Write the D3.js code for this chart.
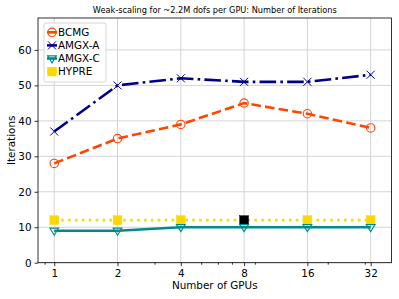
<!DOCTYPE html>
<html>
<head>
<meta charset="utf-8">
<script src="https://d3js.org/d3.v7.min.js"></script>
<style>
  body { margin: 0; background: #fff; }
  svg { font-family: "DejaVu Sans", sans-serif; }
</style>
</head>
<body>
<svg id="chart" width="399" height="299"></svg>
<script>
// data
var gpus = [1, 2, 4, 8, 16, 32];
var bcmg = [28, 35, 39, 45, 42, 38];
var amgxA = [37, 50, 52, 51, 51, 53];
var amgxC = [9, 9, 10, 10, 10, 10];
var hypre = [12, 12, 12, 12, 12, 12];
var hypreHighlight = [false, false, false, true, false, false];
var yTicks = [0, 10, 20, 30, 40, 50, 60];
var xMinorTicks = [0.9, 3, 5, 6, 7, 9, 20, 30];

var series = [
  { name: "BCMG", values: bcmg, color: "#ff4500", dash: "9.6,4.2", marker: "circle" },
  { name: "AMGX-A", values: amgxA, color: "#00008b", dash: "16.6,4.2,2.6,4.2", marker: "x" },
  { name: "AMGX-C", values: amgxC, color: "#008b8b", dash: null, marker: "tri" },
  { name: "HYPRE", values: hypre, color: "#ffd700", dash: "2.6,4.3", marker: "square" }
];

var svg = d3.select("#chart");
var plotLeft = 38, plotRight = 391.5, plotTop = 18, plotBottom = 262.7;

var x = d3.scaleLog().domain([0.837, 40.2]).range([plotLeft, plotRight]);
var y = d3.scaleLinear().domain([0, 69]).range([plotBottom, plotTop]);

// grid
var grid = svg.append("g");
grid.selectAll(".gx").data(gpus).enter().append("line")
  .attr("x1", d => x(d)).attr("x2", d => x(d))
  .attr("y1", plotTop).attr("y2", plotBottom)
  .attr("stroke", "#d4d4d4").attr("stroke-width", 1);
grid.selectAll(".gy").data(yTicks).enter().append("line")
  .attr("x1", plotLeft).attr("x2", plotRight)
  .attr("y1", d => y(d)).attr("y2", d => y(d))
  .attr("stroke", "#d4d4d4").attr("stroke-width", 1);

// axes
var xAxis = d3.axisBottom(x).tickValues(gpus).tickFormat(d3.format("d")).tickSize(3.5).tickPadding(3);
var xMinor = d3.axisBottom(x).tickValues(xMinorTicks).tickFormat("").tickSize(2);
var yAxis = d3.axisLeft(y).tickValues(yTicks).tickSize(3.5).tickPadding(3);

function styleAxis(g) {
  g.select(".domain").remove();
  g.selectAll("line").attr("stroke", "#000").attr("stroke-width", 0.8);
  g.selectAll("text").attr("font-size", "10.4px").attr("fill", "#000")
    .attr("font-family", "DejaVu Sans, sans-serif");
}
svg.append("g").attr("transform", "translate(0," + plotBottom + ")").call(xAxis).call(styleAxis);
svg.append("g").attr("transform", "translate(0," + plotBottom + ")").call(xMinor).call(styleAxis);
svg.append("g").attr("transform", "translate(" + plotLeft + ",0)").call(yAxis).call(styleAxis);

// frame
svg.append("rect").attr("x", plotLeft).attr("y", plotTop)
  .attr("width", plotRight - plotLeft).attr("height", plotBottom - plotTop)
  .attr("fill", "none").attr("stroke", "#000").attr("stroke-width", 0.8);

// lines
var line = d3.line().x(d => x(d.g)).y(d => y(d.v));

function drawMarker(g, type, color, cx, cy, fill) {
  if (type === "circle") {
    g.append("circle").attr("cx", cx).attr("cy", cy).attr("r", 4.2)
      .attr("fill", "none").attr("stroke", color).attr("stroke-width", 1.1);
  } else if (type === "x") {
    var s = 4;
    g.append("path").attr("d", "M" + (cx - s) + "," + (cy - s) + "L" + (cx + s) + "," + (cy + s) +
      "M" + (cx - s) + "," + (cy + s) + "L" + (cx + s) + "," + (cy - s))
      .attr("stroke", color).attr("stroke-width", 1).attr("fill", "none");
  } else if (type === "tri") {
    var r = 4.4;
    g.append("path").attr("d", "M" + (cx - r) + "," + (cy - r * 0.6) + "L" + (cx + r) + "," + (cy - r * 0.6) +
      "L" + cx + "," + (cy + r) + "Z")
      .attr("fill", "none").attr("stroke", color).attr("stroke-width", 1.1);
  } else if (type === "square") {
    var h = 4.4;
    g.append("rect").attr("x", cx - h).attr("y", cy - h).attr("width", 2 * h).attr("height", 2 * h)
      .attr("fill", fill || color).attr("stroke", fill || color).attr("stroke-width", 0.5);
  }
}

// draw in reverse so BCMG sits on top
series.slice().reverse().forEach(function (s) {
  var pts = s.values.map(function (v, i) { return { g: gpus[i], v: v }; });
  var g = svg.append("g");
  g.append("path").datum(pts).attr("d", line)
    .attr("fill", "none").attr("stroke", s.color).attr("stroke-width", 2.6)
    .attr("stroke-dasharray", s.dash);
  pts.forEach(function (p, i) {
    var fill = (s.name === "HYPRE" && hypreHighlight[i]) ? "#000" : null;
    drawMarker(g, s.marker, s.color, x(p.g), y(p.v), fill);
  });
});

// legend
var lg = svg.append("g");
lg.append("rect").attr("x", 44).attr("y", 23).attr("width", 62).attr("height", 59)
  .attr("rx", 2).attr("fill", "#fff").attr("fill-opacity", 0.8)
  .attr("stroke", "#cccccc").attr("stroke-width", 0.8);
series.forEach(function (s, i) {
  var cy = 32.3 + i * 13.1;
  lg.append("line").attr("x1", 47).attr("x2", 57).attr("y1", cy).attr("y2", cy)
    .attr("stroke", s.color).attr("stroke-width", 2.6);
  drawMarker(lg, s.marker, s.color, 52, cy);
  lg.append("text").attr("x", 58).attr("y", cy).attr("dy", "0.36em")
    .attr("font-size", "10.4px").text(s.name);
});

// titles
svg.append("text").attr("x", (plotLeft + plotRight) / 2).attr("y", 13)
  .attr("text-anchor", "middle").attr("font-size", "8.2px").text("Weak-scaling for ~2.2M dofs per GPU: Number of Iterations");
svg.append("text").attr("x", (plotLeft + plotRight) / 2).attr("y", 289)
  .attr("text-anchor", "middle").attr("font-size", "10.4px").text("Number of GPUs");
svg.append("text").attr("transform", "translate(15," + ((plotTop + plotBottom) / 2) + ") rotate(-90)")
  .attr("text-anchor", "middle").attr("font-size", "10.4px").text("Iterations");
</script>
</body>
</html>
